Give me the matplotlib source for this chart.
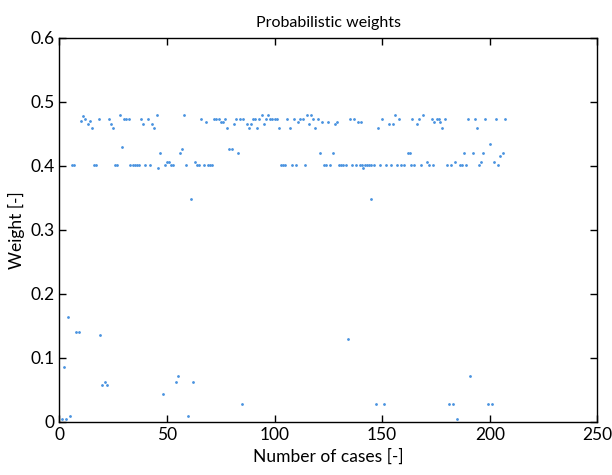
import matplotlib.pyplot as plt

plt.rcParams['font.family'] = ['Lato', 'DejaVu Sans']

# upper band (~0.46-0.48)
top_x = [10.8, 12, 10.1, 14.2, 13.1, 15, 18.2, 23, 24, 25, 28, 30.1, 31.2, 32.3,
         38, 41, 39, 43, 44, 45.2, 58, 66, 68,
         72, 73, 74, 75, 76, 77, 78, 81, 82, 84, 85.5, 87, 88, 89, 90, 91, 92, 93,
         94, 95, 96, 97, 98, 99, 100, 101, 102,
         106, 107, 109, 111, 112, 113, 115, 117, 116, 118, 119, 120, 122, 125, 129,
         128, 135, 137, 139,
         140, 150, 148, 153, 155, 156, 158, 164, 166, 167, 169, 173, 174,
         175.5, 176.4, 179.3, 177, 178, 190, 193, 194, 198, 203, 207]
top_y = [0.478, 0.474, 0.470, 0.470, 0.465, 0.459, 0.474, 0.474, 0.465, 0.459, 0.479,
         0.474, 0.474, 0.474,
         0.474, 0.474, 0.465, 0.465, 0.459, 0.479, 0.479, 0.474, 0.469,
         0.474, 0.474, 0.474, 0.469, 0.469, 0.474, 0.459, 0.465, 0.474, 0.474, 0.474,
         0.465, 0.459, 0.465, 0.474, 0.474, 0.459, 0.474,
         0.479, 0.465, 0.474, 0.479, 0.474, 0.474, 0.474, 0.474, 0.459,
         0.474, 0.459, 0.474, 0.469, 0.474, 0.474, 0.479, 0.479, 0.465, 0.474, 0.459,
         0.474, 0.469, 0.469, 0.469, 0.465, 0.474, 0.474, 0.469,
         0.469, 0.474, 0.459, 0.465, 0.465, 0.479, 0.474, 0.474, 0.465, 0.474, 0.479,
         0.474, 0.469,
         0.474, 0.474, 0.474, 0.469, 0.459, 0.474, 0.474, 0.459, 0.474, 0.474, 0.474]

# middle band (~0.40-0.44)
mid_x = [6, 7, 16, 17, 26, 27, 33, 34, 35, 29,
         36, 37, 40, 42, 49, 50, 51, 52, 53, 59, 63, 64, 65, 67, 69, 47, 56, 57, 46,
         70, 71, 103, 104, 79, 80, 83,
         105, 108, 110, 114, 123, 124, 126, 130, 131, 132, 133, 136, 138, 139.5,
         121, 127,
         140.5, 142, 143, 144, 145, 146.4, 149, 152, 154, 157, 159, 160, 163.5, 165,
         168, 171, 172, 173.5, 141, 162, 163,
         180, 182, 184, 186, 187, 189, 195, 196, 202, 204,
         200, 188, 192, 197, 206, 205]
mid_y = [0.401, 0.401, 0.401, 0.401, 0.401, 0.401, 0.401, 0.401, 0.401, 0.430,
         0.401, 0.401, 0.401, 0.401, 0.401, 0.406, 0.406, 0.401, 0.401, 0.401, 0.406,
         0.401, 0.401, 0.401, 0.401, 0.421, 0.421, 0.426, 0.396,
         0.401, 0.401, 0.401, 0.401, 0.426, 0.426, 0.421,
         0.401, 0.401, 0.401, 0.401, 0.401, 0.401, 0.401, 0.401, 0.401, 0.401, 0.401,
         0.401, 0.401, 0.401,
         0.421, 0.421,
         0.401, 0.401, 0.401, 0.401, 0.401, 0.401, 0.401, 0.401, 0.401, 0.401, 0.401,
         0.401, 0.401, 0.401, 0.401, 0.406, 0.401, 0.401, 0.396, 0.421, 0.421,
         0.401, 0.401, 0.406, 0.401, 0.401, 0.401, 0.401, 0.406, 0.406, 0.401,
         0.435, 0.421, 0.421, 0.421, 0.421, 0.416]

# outliers
low_x = [61, 145, 4, 7.6, 9, 19, 2, 20, 22, 21, 48, 54, 55, 62, 85, 1, 3, 5, 60,
         134, 147, 151, 181, 183, 185, 191, 199, 201]
low_y = [0.348, 0.348, 0.164, 0.140, 0.140, 0.135, 0.086, 0.057, 0.057, 0.0625,
         0.043, 0.0625, 0.072, 0.0625, 0.028, 0.005, 0.005, 0.009, 0.009,
         0.130, 0.028, 0.028, 0.028, 0.028, 0.004, 0.072, 0.028, 0.028]

cases = top_x + mid_x + low_x
weights = top_y + mid_y + low_y

fig = plt.figure(figsize=(6.12, 4.75), dpi=100)
ax = fig.add_axes([0.097, 0.112, 0.879, 0.808])
ax.plot(cases, weights, '.', color='#4a93e0', markersize=2, linestyle='none')

ax.set_xlim(0, 250)
ax.set_ylim(0, 0.6)
ax.set_xticks([0, 50, 100, 150, 200, 250])
ax.set_yticks([0, 0.1, 0.2, 0.3, 0.4, 0.5, 0.6])
ax.set_yticklabels(['0', '0.1', '0.2', '0.3', '0.4', '0.5', '0.6'])
ax.tick_params(direction='in', top=True, right=True, labelsize=12.5, length=5, width=1)
for s in ax.spines.values():
    s.set_linewidth(1)

ax.set_xlabel('Number of cases [-]', fontsize=12.5)
ax.set_ylabel('Weight [-]', fontsize=12.5)
ax.set_title('Probabilistic weights', fontsize=11.5, pad=8)

fig.savefig('out.png')
